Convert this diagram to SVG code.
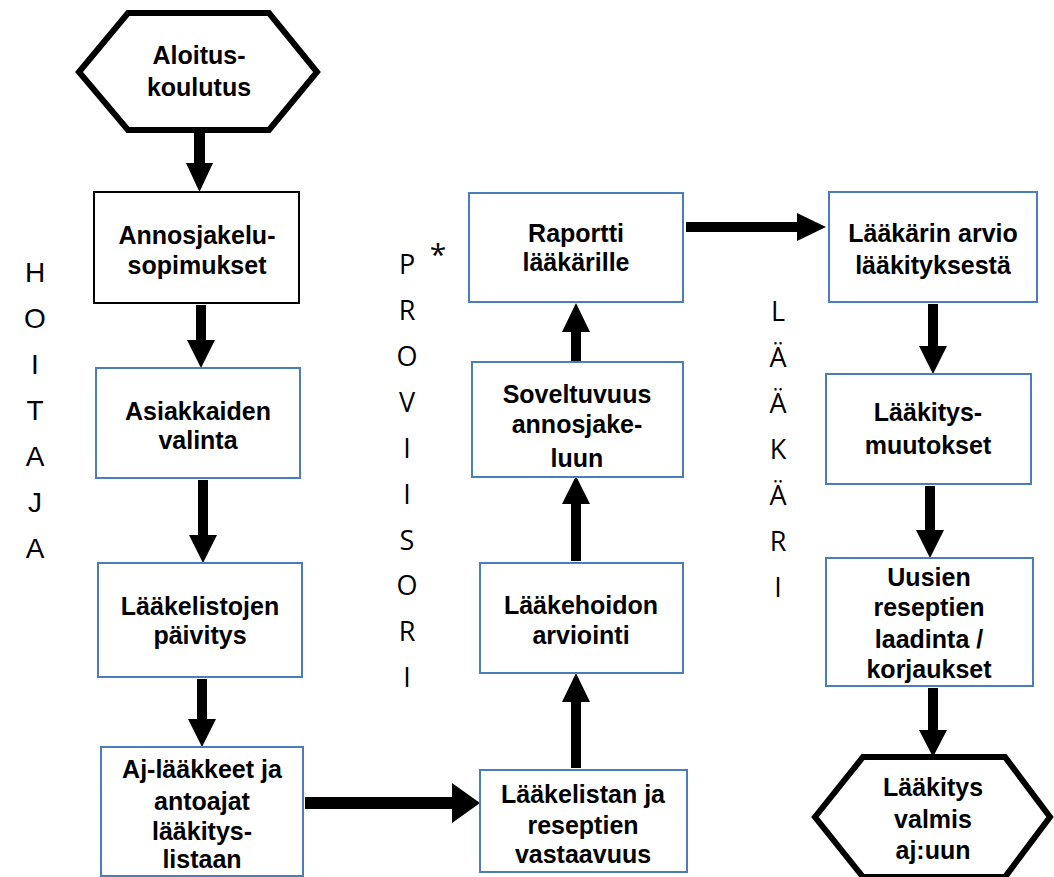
<svg xmlns="http://www.w3.org/2000/svg" width="1054" height="877" viewBox="0 0 1054 877">
<style>
.box{fill:#fff;stroke:#4a7ebb;stroke-width:2}
.bbox{fill:#fff;stroke:#000;stroke-width:2}
.hex{fill:#fff;stroke:#000;stroke-width:6;stroke-linejoin:miter}
.t{font-family:"Liberation Sans",Arial,sans-serif;font-weight:bold;font-size:25px;fill:#000;text-anchor:middle}
.v{font-family:"Liberation Sans",Arial,sans-serif;font-size:28px;fill:#000;text-anchor:middle}
.c{font-family:"Open Sans","Noto Sans",sans-serif;font-size:27px;fill:#000;text-anchor:middle}
.arr{fill:#000}
</style>
<rect width="1054" height="877" fill="#fff"/>
<g id="connectors">
<polygon class="arr" points="194,133 205,133 205,163 213,163 199.5,192 186,163 194,163"/>
<polygon class="arr" points="196,305 206,305 206,340 215,340 201,368 187,340 196,340"/>
<polygon class="arr" points="198,480 208,480 208,535 217,535 203,563 189,535 198,535"/>
<polygon class="arr" points="197,679 207,679 207,719 216,719 202,747 188,719 197,719"/>
<polygon class="arr" points="305,797 452,797 452,783 480,803 452,823 452,809 305,809"/>
<polygon class="arr" points="571,768 581,768 581,702 590,702 576,673 562,702 571,702"/>
<polygon class="arr" points="571,561 581,561 581,504 590,504 576,476 562,504 571,504"/>
<polygon class="arr" points="571,361 581,361 581,332 590,332 576,303 562,332 571,332"/>
<polygon class="arr" points="686,222 797,222 797,213 826,227 797,241 797,232 686,232"/>
<polygon class="arr" points="928,304 938,304 938,346 947,346 933,374 919,346 928,346"/>
<polygon class="arr" points="925,486 935,486 935,530 944,530 930,558 916,530 925,530"/>
<polygon class="arr" points="928,688 938,688 938,730 947,730 933,757 919,730 928,730"/>
</g>
<g id="n-aloitus">
<polygon class="hex" points="79,72 128,13 269,13 317,72 269,130 128,130"/>
<text class="t" x="199" y="64">Aloitus-</text>
<text class="t" x="199" y="96">koulutus</text>
</g>
<g id="n-annosjakelu">
<rect class="bbox" x="94" y="192" width="205" height="111"/>
<text class="t" x="197" y="244">Annosjakelu-</text>
<text class="t" x="197" y="274">sopimukset</text>
</g>
<g id="n-asiakkaiden">
<rect class="box" x="96" y="368" width="204" height="110"/>
<text class="t" x="198" y="420">Asiakkaiden</text>
<text class="t" x="198" y="449">valinta</text>
</g>
<g id="n-laakelistojen">
<rect class="box" x="98" y="563" width="204" height="114"/>
<text class="t" x="200" y="615">Lääkelistojen</text>
<text class="t" x="200" y="644">päivitys</text>
</g>
<g id="n-aj">
<rect class="box" x="101" y="747" width="202" height="129"/>
<text class="t" x="202" y="778">Aj-lääkkeet ja</text>
<text class="t" x="202" y="810">antoajat</text>
<text class="t" x="202" y="840">lääkitys-</text>
<text class="t" x="202" y="868">listaan</text>
</g>
<g id="n-laakelistan">
<rect class="box" x="480" y="770" width="207" height="102"/>
<text class="t" x="583" y="803">Lääkelistan ja</text>
<text class="t" x="583" y="834">reseptien</text>
<text class="t" x="583" y="863">vastaavuus</text>
</g>
<g id="n-laakehoidon">
<rect class="box" x="480" y="563" width="203" height="110"/>
<text class="t" x="581" y="614">Lääkehoidon</text>
<text class="t" x="581" y="644">arviointi</text>
</g>
<g id="n-soveltuvuus">
<rect class="box" x="472" y="362" width="211" height="115"/>
<text class="t" x="577" y="403">Soveltuvuus</text>
<text class="t" x="577" y="433">annosjake-</text>
<text class="t" x="577" y="467">luun</text>
</g>
<g id="n-raportti">
<rect class="box" x="469" y="193" width="214" height="109"/>
<text class="t" x="576" y="242">Raportti</text>
<text class="t" x="576" y="271">lääkärille</text>
</g>
<g id="n-laakarin">
<rect class="box" x="829" y="192" width="208" height="110"/>
<text class="t" x="933" y="242">Lääkärin arvio</text>
<text class="t" x="933" y="274">lääkityksestä</text>
</g>
<g id="n-muutokset">
<rect class="box" x="826" y="374" width="205" height="110"/>
<text class="t" x="928" y="421">Lääkitys-</text>
<text class="t" x="928" y="454">muutokset</text>
</g>
<g id="n-uusien">
<rect class="box" x="826" y="558" width="207" height="128"/>
<text class="t" x="929" y="586">Uusien</text>
<text class="t" x="929" y="616">reseptien</text>
<text class="t" x="929" y="648">laadinta /</text>
<text class="t" x="929" y="678">korjaukset</text>
</g>
<g id="n-valmis">
<polygon class="hex" points="815,817 863,757 1005,757 1050,817 1005,877 863,877"/>
<text class="t" x="933" y="796">Lääkitys</text>
<text class="t" x="933" y="828">valmis</text>
<text class="t" x="933" y="859">aj:uun</text>
</g>
<g id="lbl-hoitaja">
<text class="v" x="35" y="282">H</text>
<text class="v" x="35" y="328">O</text>
<text class="v" x="35" y="374">I</text>
<text class="v" x="35" y="420">T</text>
<text class="v" x="35" y="466">A</text>
<text class="v" x="35" y="512">J</text>
<text class="v" x="35" y="558">A</text>
</g>
<g id="lbl-proviisori">
<text class="c" x="407" y="274">P</text>
<text class="c" x="407" y="320">R</text>
<text class="c" x="407" y="366">O</text>
<text class="c" x="407" y="412">V</text>
<text class="c" x="407" y="458">I</text>
<text class="c" x="407" y="504">I</text>
<text class="c" x="407" y="550">S</text>
<text class="c" x="407" y="595">O</text>
<text class="c" x="407" y="641">R</text>
<text class="c" x="407" y="687">I</text>
<text class="c" x="438" y="265" style="font-size:30px">*</text>
</g>
<g id="lbl-laakari">
<text class="c" x="778" y="321">L</text>
<text class="c" x="778" y="367">Ä</text>
<text class="c" x="778" y="413">Ä</text>
<text class="c" x="778" y="459">K</text>
<text class="c" x="778" y="505">Ä</text>
<text class="c" x="778" y="551">R</text>
<text class="c" x="778" y="597">I</text>
</g>
</svg>
